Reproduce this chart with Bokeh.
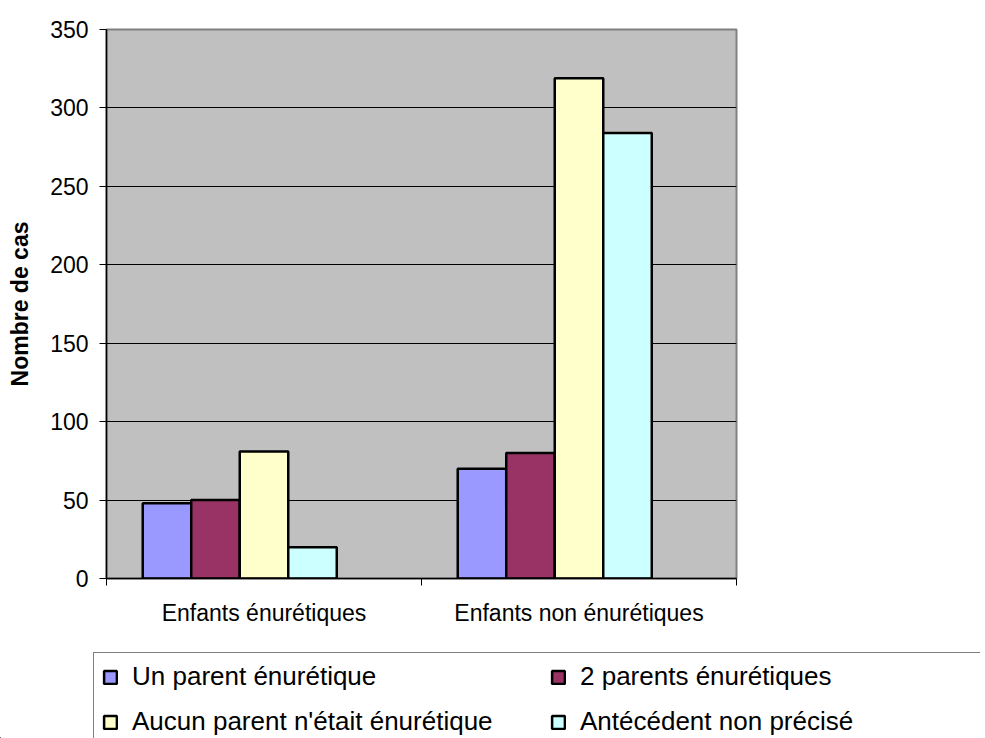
from bokeh.plotting import figure
from bokeh.models import Range1d, FixedTicker, Legend, LegendItem, ColumnDataSource
from bokeh.transform import dodge
from bokeh.embed import file_html
from bokeh.resources import INLINE

# ---- data ----
categories = ["Enfants énurétiques", "Enfants non énurétiques"]
series_names = ["Un parent énurétique", "2 parents énurétiques",
                "Aucun parent n'était énurétique", "Antécédent non précisé"]
un_parent = [48, 70]
deux_parents = [50, 80]
aucun_parent = [81, 319]
non_precise = [20, 284]
y_ticks = [0, 50, 100, 150, 200, 250, 300, 350]
colors = ["#9999FF", "#993366", "#FFFFCC", "#CCFFFF"]

FONT = "Liberation Sans"

centers = [i + 0.5 for i in range(len(categories))]
source = ColumnDataSource(dict(x=centers, s0=un_parent, s1=deux_parents,
                               s2=aucun_parent, s3=non_precise))

p = figure(width=985, height=650, output_backend="svg", toolbar_location=None,
           x_range=Range1d(0, len(categories)), y_range=Range1d(0, 350),
           min_border_left=106, min_border_right=249, min_border_top=29,
           min_border_bottom=72)
p.background_fill_color = "#C0C0C0"
p.border_fill_color = "white"
p.outline_line_color = "#808080"
p.outline_line_width = 2

bar_w = 0.154
offsets = [-2 * bar_w, -bar_w, 0, bar_w]
for k, (col, off) in enumerate(zip(colors, offsets)):
    p.vbar(x=dodge("x", off, range=p.x_range), top="s%d" % k, width=bar_w,
           source=source, fill_color=col, line_color="black", line_width=2.5)

# y axis
p.yaxis.ticker = FixedTicker(ticks=y_ticks)
p.yaxis.axis_line_color = "black"
p.yaxis.axis_line_width = 1.5
p.yaxis.major_tick_out = 7
p.yaxis.major_tick_in = 0
p.yaxis.minor_tick_line_color = None
p.yaxis.major_label_standoff = 11
p.yaxis.major_label_text_font = FONT
p.yaxis.major_label_text_font_size = "23px"
p.yaxis.major_label_text_color = "black"
p.yaxis.axis_label = "Nombre de cas"
p.yaxis.axis_label_text_font = FONT
p.yaxis.axis_label_text_font_size = "23px"
p.yaxis.axis_label_text_font_style = "bold"
p.yaxis.axis_label_text_color = "black"
p.yaxis.axis_label_standoff = 14

# x axis: labels at category centres, ticks at category boundaries
p.xaxis.ticker = FixedTicker(ticks=centers,
                             minor_ticks=list(range(len(categories) + 1)))
p.xaxis.major_label_overrides = {c: name for c, name in zip(centers, categories)}
p.xaxis.axis_line_color = "black"
p.xaxis.axis_line_width = 1.5
p.xaxis.major_tick_line_color = None
p.xaxis.major_tick_out = 0
p.xaxis.major_tick_in = 0
p.xaxis.minor_tick_line_color = "black"
p.xaxis.minor_tick_out = 7
p.xaxis.minor_tick_in = 0
p.xaxis.major_label_standoff = 14
p.xaxis.major_label_text_font = FONT
p.xaxis.major_label_text_font_size = "23px"
p.xaxis.major_label_text_color = "black"

p.xgrid.grid_line_color = None
p.ygrid.ticker = FixedTicker(ticks=y_ticks)
p.ygrid.grid_line_color = "black"
p.ygrid.grid_line_width = 1

# ---- legend strip (swatch renderers sit outside the visible range) ----
lg = figure(width=985, height=88, output_backend="svg", toolbar_location=None,
            x_range=Range1d(0, 1), y_range=Range1d(0, 1),
            x_axis_type=None, y_axis_type=None,
            min_border_left=0, min_border_right=5, min_border_top=0,
            min_border_bottom=0)
lg.background_fill_color = "white"
lg.border_fill_color = "white"
lg.outline_line_color = None
lg.xgrid.grid_line_color = None
lg.ygrid.grid_line_color = None
swatches = [lg.vbar(x=[-5], top=[0], width=0.1, fill_color=col,
                    line_color="black", line_width=2.5) for col in colors]

legend = Legend(items=[LegendItem(label=n, renderers=[r])
                       for n, r in zip(series_names, swatches)],
                orientation="horizontal", ncols=2,
                location=(93, -8))
legend.label_text_font = FONT
legend.label_text_font_size = "26px"
legend.label_text_color = "black"
legend.glyph_width = 16
legend.glyph_height = 16
legend.label_standoff = 14
legend.label_height = 26
legend.label_width = 404
legend.spacing = 14
legend.padding = 8
legend.margin = 0
legend.border_line_color = "black"
legend.border_line_width = 1
legend.background_fill_color = "white"
legend.background_fill_alpha = 1
lg.add_layout(legend)

open("out.html", "w").write(file_html([p, lg], INLINE))
